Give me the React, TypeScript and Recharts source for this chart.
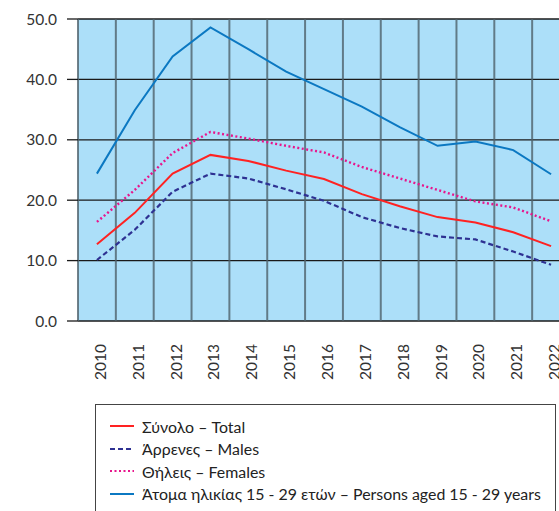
import React from "react";
import { LineChart, Line, XAxis, YAxis, CartesianGrid, ReferenceLine, Legend } from "recharts";

const YEARS = [2010, 2011, 2012, 2013, 2014, 2015, 2016, 2017, 2018, 2019, 2020, 2021, 2022];
const TOTAL = [12.7, 17.9, 24.4, 27.5, 26.5, 24.9, 23.5, 21.0, 19.0, 17.2, 16.3, 14.7, 12.4];
const MALES = [10.1, 15.1, 21.4, 24.4, 23.6, 21.8, 19.9, 17.2, 15.4, 14.0, 13.5, 11.5, 9.3];
const FEMALES = [16.4, 21.7, 27.8, 31.3, 30.2, 29.0, 27.9, 25.5, 23.6, 21.7, 19.8, 18.8, 16.5];
const YOUTH = [24.4, 34.9, 43.8, 48.6, 45.0, 41.3, 38.4, 35.5, 32.1, 29.0, 29.7, 28.3, 24.3];
const Y_TICKS = [0, 10, 20, 30, 40, 50];

const SERIES = [
  { key: "total", name: "Σύνολο – Total", color: "#ff2222", dash: undefined, width: 2 },
  { key: "males", name: "Άρρενες – Males", color: "#2e3192", dash: "5 3", width: 2.2 },
  { key: "females", name: "Θήλεις – Females", color: "#e8158c", dash: "2 2.5", width: 2.4 },
  { key: "youth", name: "Άτομα ηλικίας 15 - 29 ετών – Persons aged 15 - 29 years", color: "#0b78c2", dash: undefined, width: 2 },
];

const data = YEARS.map((year, i) => ({
  year,
  total: TOTAL[i],
  males: MALES[i],
  females: FEMALES[i],
  youth: YOUTH[i],
}));

const FONT = "Lato, 'DejaVu Sans', sans-serif";
const TEXT = "#333";

function YearTick({ x, y, payload }: any) {
  return (
    <text
      transform={`translate(${x + 3},${y + 15}) rotate(-90)`}
      textAnchor="end"
      dominantBaseline="central"
      fontSize={15.5}
      fontFamily={FONT}
      fill={TEXT}
    >
      {payload.value}
    </text>
  );
}

function LegendBox() {
  return (
    <div
      style={{
        position: "absolute",
        left: 95,
        top: 404,
        width: 461,
        height: 130,
        border: "1px solid #444",
        boxSizing: "border-box",
        paddingTop: 10,
        paddingLeft: 14,
        fontFamily: FONT,
        fontSize: 15.9,
        color: "#222",
      }}
    >
      {SERIES.map((s) => (
        <div key={s.key} style={{ display: "flex", alignItems: "center", height: 22.5 }}>
          <svg width={24} height={6} style={{ marginRight: 8 }}>
            <line x1={0} y1={3} x2={24} y2={3} stroke={s.color} strokeWidth={2} strokeDasharray={s.dash} />
          </svg>
          <span>{s.name}</span>
        </div>
      ))}
    </div>
  );
}

export default function App() {
  return (
    <div style={{ position: "absolute", left: 0, top: 0, width: 559, height: 511, overflow: "hidden", background: "#fff" }}>
      <LineChart width={580} height={540} data={data} margin={{ top: 19, right: 10, left: 0, bottom: 159 }}>
        <CartesianGrid vertical={false} stroke="#1a1a1a" strokeWidth={1.3} fill="#acdff9" fillOpacity={1} />
        {YEARS.map((y) => (
          <ReferenceLine key={y} x={y - 0.5} stroke="#4f626c" strokeWidth={2} strokeOpacity={0.8} />
        ))}
        <XAxis
          type="number"
          dataKey="year"
          domain={[2009.5, 2022.5]}
          ticks={YEARS}
          interval={0}
          axisLine={false}
          tickLine={false}
          height={60}
          tick={<YearTick />}
        />
        <YAxis
          domain={[0, 50]}
          ticks={Y_TICKS}
          width={78}
          axisLine={false}
          tickLine={{ stroke: "#1a1a1a", strokeWidth: 1.3 }}
          tickSize={11}
          tickMargin={10}
          tickFormatter={(v: number) => v.toFixed(1)}
          tick={{ fontSize: 15.5, fontFamily: FONT, fill: TEXT }}
        />
        {SERIES.map((s) => (
          <Line
            key={s.key}
            type="linear"
            dataKey={s.key}
            name={s.name}
            stroke={s.color}
            strokeWidth={s.width}
            strokeDasharray={s.dash}
            dot={false}
            isAnimationActive={false}
          />
        ))}
        <Legend content={() => null} />
      </LineChart>
      <LegendBox />
    </div>
  );
}
